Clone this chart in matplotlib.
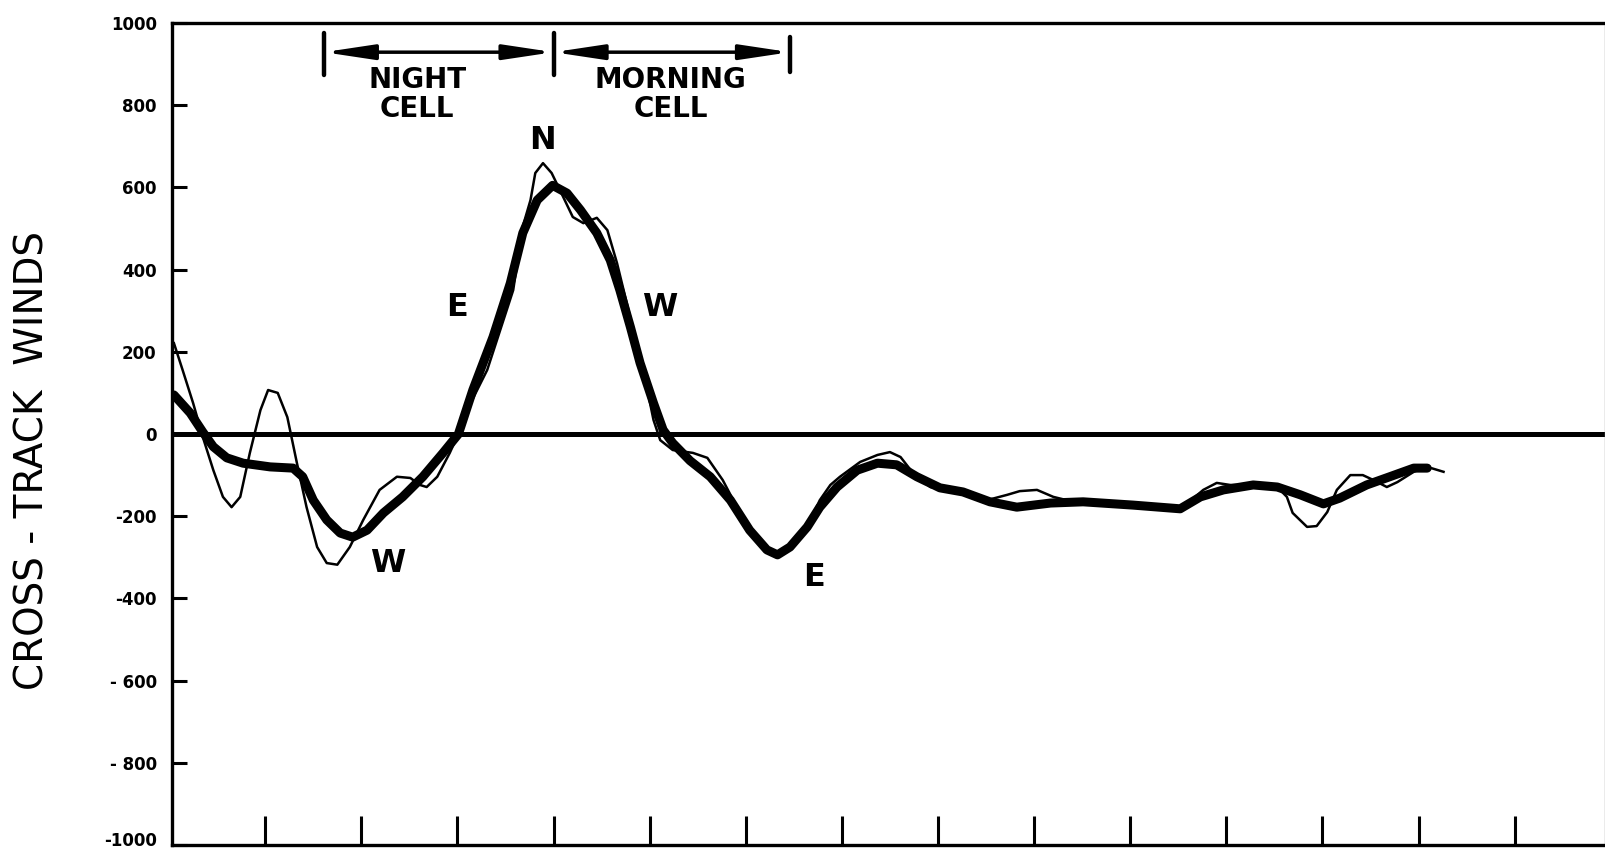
import matplotlib.pyplot as plt
from matplotlib.transforms import ScaledTranslation

# thin curve (raw winds)
x_raw = [0.02, 0.11, 0.22, 0.32, 0.43, 0.53, 0.62, 0.71, 0.81, 0.92,
         1.00, 1.10, 1.20, 1.30, 1.40, 1.51, 1.61, 1.72, 1.85, 1.99,
         2.16, 2.34, 2.48, 2.58, 2.65, 2.76, 2.89, 2.98, 3.07, 3.28,
         3.55, 3.65, 3.73, 3.78, 3.86, 3.95, 4.07, 4.17, 4.28, 4.42,
         4.53, 4.63, 4.80, 4.94, 5.01, 5.08, 5.21, 5.42, 5.57, 5.73,
         5.84, 6.01, 6.19, 6.30, 6.43, 6.61, 6.74, 6.85, 6.95, 7.16,
         7.34, 7.47, 7.58, 7.71, 7.89, 8.20, 8.48, 8.69, 8.82, 9.00,
         9.17, 9.31, 9.48, 10.00, 10.49, 10.62, 10.73, 10.87, 11.01, 11.25,
         11.50, 11.60, 11.66, 11.81, 11.91, 12.02, 12.12, 12.26, 12.39, 12.50,
         12.64, 12.75, 12.92, 13.06, 13.23]
w_raw = [221, 156, 75, -7, -88, -153, -178, -153, -46, 58,
         107, 100, 41, -71, -178, -275, -314, -318, -275, -209,
         -136, -104, -107, -124, -129, -104, -46, 0, 58, 156,
         350, 505, 569, 635, 659, 635, 577, 528, 513, 526,
         496, 416, 253, 114, 34, -15, -39, -46, -58, -112,
         -161, -234, -282, -294, -275, -226, -161, -124, -104, -68,
         -51, -44, -56, -95, -129, -143, -161, -148, -139, -136,
         -153, -161, -165, -173, -182, -158, -136, -119, -124, -124,
         -129, -153, -192, -226, -224, -190, -136, -100, -100, -112,
         -129, -117, -92, -80, -92]

# thick curve (smoothed winds)
x_smooth = [0.02, 0.19, 0.32, 0.43, 0.57, 0.74, 1.02, 1.26, 1.36, 1.47,
            1.61, 1.75, 1.88, 2.03, 2.20, 2.40, 2.61, 2.82, 2.98, 3.13,
            3.34, 3.52, 3.65, 3.80, 3.96, 4.11, 4.25, 4.42, 4.56, 4.66,
            4.77, 4.87, 5.01, 5.11, 5.21, 5.39, 5.60, 5.81, 6.01, 6.19,
            6.30, 6.43, 6.61, 6.74, 6.92, 7.13, 7.34, 7.54, 7.75, 7.99,
            8.23, 8.51, 8.79, 9.14, 9.48, 10.00, 10.49, 10.70, 10.94, 11.25,
            11.50, 11.74, 11.98, 12.15, 12.43, 12.67, 12.92, 13.06]
w_smooth = [95, 51, 5, -31, -58, -71, -80, -83, -104, -161,
            -209, -241, -251, -234, -192, -153, -104, -46, 0, 107,
            236, 367, 489, 569, 605, 586, 545, 489, 423, 350,
            260, 173, 75, 10, -22, -65, -104, -161, -234, -282,
            -294, -275, -226, -178, -129, -88, -71, -75, -104, -131,
            -141, -165, -178, -168, -165, -173, -182, -153, -136, -124,
            -129, -148, -170, -156, -124, -104, -83, -83]

y_ticks = [1000, 800, 600, 400, 200, 0, -200, -400, -600, -800, -1000]
y_tick_labels = ['1000', '800', '600', '400', '200', '0',
                 '-200', '-400', '- 600', '- 800', '-1000']
# tick marks sit a little left of whole units
x_ticks = [k - 0.03 for k in range(1, 15)]

# cell boundaries and names
cell_edges = [1.58, 3.97, 6.43]
cell_names = ['NIGHT\nCELL', 'MORNING\nCELL']
cell_names_x = [2.55, 5.19]

# wind direction letters along the curve
marks = ['N', 'E', 'W', 'W', 'E']
marks_x = [3.86, 2.97, 5.07, 2.24, 6.68]
marks_y = [715, 309, 309, -314, -348]

fig = plt.figure(figsize=(16.06, 8.51), dpi=100)
ax = fig.add_axes([172 / 1606, 6 / 851, 1433 / 1606, 822 / 851])

ax.axhline(0, color='black', lw=3.6, zorder=1)
ax.plot(x_raw, w_raw, color='black', lw=1.8, solid_joinstyle='round', zorder=2)
ax.plot(x_smooth, w_smooth, color='black', lw=6.5, solid_joinstyle='round',
        solid_capstyle='round', zorder=3)

ax.set_xlim(0, 14.91)
ax.set_ylim(-1000, 1000)
ax.set_yticks(y_ticks)
ax.set_yticklabels(y_tick_labels, fontsize=12, fontweight='bold')
ax.set_xticks(x_ticks)
ax.set_xticklabels([])
ax.tick_params(axis='y', direction='in', length=11, width=2.2, pad=11)
ax.tick_params(axis='x', direction='in', length=21, width=2.2)

# lift the bottom label so it stays inside the figure
low = ax.get_yticklabels()[-1]
low.set_transform(low.get_transform() + ScaledTranslation(0, 4 / 72, fig.dpi_scale_trans))

for side in ['left', 'bottom', 'top']:
    ax.spines[side].set_linewidth(2.4)
ax.spines['right'].set_linewidth(1)
ax.spines['right'].set_color('#999999')

# arrows over the cells
arrow_y = 929
for i in range(2):
    ax.annotate('', xy=(cell_edges[i], arrow_y), xytext=(cell_edges[i + 1], arrow_y),
                arrowprops=dict(arrowstyle='<|-|>,head_length=3.0,head_width=0.45',
                                color='black', lw=2.5, shrinkA=0, shrinkB=0))
    ax.text(cell_names_x[i], 826, cell_names[i],
            ha='center', va='center', fontsize=20, fontweight='bold', linespacing=1.05)
for k, xe in enumerate(cell_edges):
    top = 966 if k == 2 else 976
    bottom = 880 if k == 2 else 873
    ax.plot([xe, xe], [bottom, top], color='black', lw=3.2, solid_capstyle='round')

for m, mx, my in zip(marks, marks_x, marks_y):
    ax.text(mx, my, m, ha='center', va='center', fontsize=23, fontweight='bold')

fig.text(33 / 1606, 1 - 461 / 851, 'CROSS - TRACK  WINDS', rotation=90,
         ha='center', va='center', fontsize=28)

plt.savefig('out.png', dpi=100)
